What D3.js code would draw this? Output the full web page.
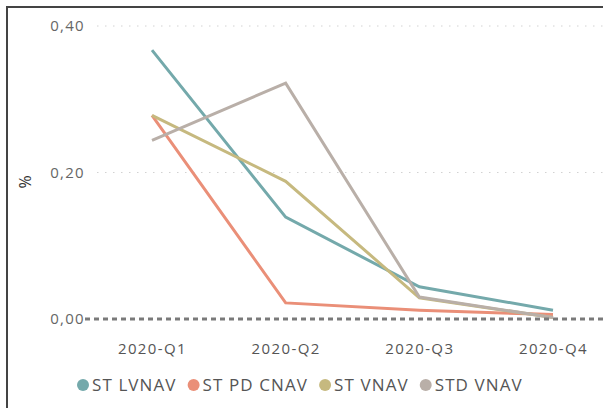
<!DOCTYPE html>
<html>
<head>
<meta charset="utf-8">
<script src="https://cdn.jsdelivr.net/npm/d3@7"></script>
<style>
  html, body { margin: 0; padding: 0; background: #fff; }
  svg { display: block; font-family: "Open Sans", "DejaVu Sans", sans-serif; }
</style>
</head>
<body>
<svg id="chart" width="603" height="408"></svg>
<script>
// Quarterly categories
const quarters = ["2020-Q1", "2020-Q2", "2020-Q3", "2020-Q4"];
// Series names and colours
const seriesNames = ["ST LVNAV", "ST PD CNAV", "ST VNAV", "STD VNAV"];
const seriesColors = ["#74A9AB", "#EA8F78", "#C6B97F", "#B9AFA8"];
// Values (%) per series, one per quarter
const stLvnav = [0.367, 0.139, 0.044, 0.012];
const stPdCnav = [0.278, 0.022, 0.012, 0.006];
const stVnav = [0.278, 0.188, 0.029, 0.002];
const stdVnav = [0.244, 0.322, 0.030, 0.002];
// Y-axis ticks
const yTicks = [0, 0.2, 0.4];

const seriesValues = [stLvnav, stPdCnav, stVnav, stdVnav];

const svg = d3.select("#chart");
const W = 603, H = 408;

// Frame around the visual
svg.append("path")
  .attr("d", `M7,${H} L7,7 L${W},7`)
  .attr("fill", "none")
  .attr("stroke", "#444")
  .attr("stroke-width", 2);

const x = d3.scalePoint().domain(quarters).range([152, 553]);
const y = d3.scaleLinear().domain([0, 0.4]).range([319, 26]);

const fmt = v => d3.format(".2f")(v).replace(".", ",");

// Gridlines
svg.append("g").selectAll("line")
  .data(yTicks.filter(t => t > 0))
  .join("line")
  .attr("x1", 97).attr("x2", W)
  .attr("y1", d => y(d)).attr("y2", d => y(d))
  .attr("stroke", "#d2d2d2")
  .attr("stroke-width", 1)
  .attr("stroke-dasharray", "1.5,6.5");

// Y axis tick labels
const yAxis = d3.axisLeft(y).tickValues(yTicks).tickFormat(fmt).tickSize(0).tickPadding(0);
const yg = svg.append("g").attr("transform", "translate(85,0)").call(yAxis);
yg.select(".domain").remove();
yg.selectAll("text")
  .attr("fill", "#666")
  .attr("font-size", 15)
  .attr("letter-spacing", "1.3px")
  .attr("font-family", "\"Open Sans\", sans-serif");

// Y axis title
svg.append("text")
  .attr("transform", "translate(25,182) rotate(-90)")
  .attr("text-anchor", "middle")
  .attr("dy", "0.35em")
  .attr("fill", "#333")
  .attr("font-size", 16)
  .text("%");

// X axis labels
const xAxis = d3.axisBottom(x).tickSize(0).tickPadding(0);
const xg = svg.append("g").attr("transform", "translate(0,343)").call(xAxis);
xg.select(".domain").remove();
xg.selectAll("text")
  .attr("fill", "#555")
  .attr("font-size", 15)
  .attr("letter-spacing", "1.4px")
  .attr("font-family", "\"Open Sans\", sans-serif");

// Series lines
const line = d3.line()
  .x((d, i) => x(quarters[i]))
  .y(d => y(d));

svg.append("g").selectAll("path")
  .data(seriesValues)
  .join("path")
  .attr("d", d => line(d))
  .attr("fill", "none")
  .attr("stroke", (d, i) => seriesColors[i])
  .attr("stroke-width", 3)
  .attr("stroke-linejoin", "miter");

// Zero reference line
svg.append("line")
  .attr("x1", 85).attr("x2", W)
  .attr("y1", y(0)).attr("y2", y(0))
  .attr("stroke", "#7a7a7a")
  .attr("stroke-width", 3)
  .attr("stroke-dasharray", "5,4");

// Legend: items laid out left to right by measured text width
const lg = svg.append("g").attr("transform", "translate(0,385)");
let cx = 83;
seriesNames.forEach((name, i) => {
  const item = lg.append("g").attr("transform", `translate(${cx},0)`);
  item.append("circle")
    .attr("r", 6)
    .attr("fill", seriesColors[i]);
  const t = item.append("text")
    .attr("x", 9)
    .attr("dy", "0.35em")
    .attr("fill", "#555")
    .attr("font-size", 17)
    .attr("letter-spacing", "1.1px")
    .text(name);
  cx += 9 + t.node().getComputedTextLength() + 17;
});
</script>
</body>
</html>
